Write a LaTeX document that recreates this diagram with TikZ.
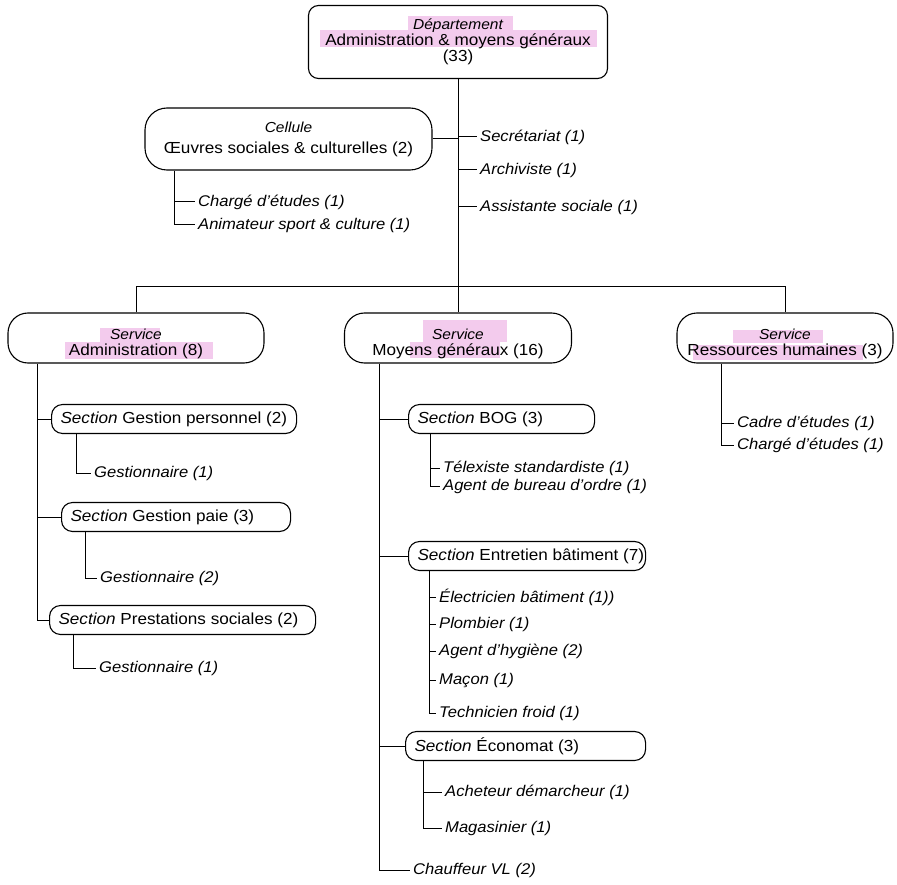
\documentclass[tikz,border=0pt]{standalone}
\usepackage{fontspec}
\setmainfont{Liberation Sans}[FakeStretch=1.07]
\usetikzlibrary{calc}
\definecolor{hilite}{RGB}{240,186,232}
\newcommand\smallit[1]{{\fontsize{14.5}{15}\selectfont\itshape #1}}
\begin{document}
\begin{tikzpicture}[x=1pt,y=-1pt,
  every node/.style={font=\fontsize{16}{16}\selectfont},
  line/.style={draw=black, line width=1pt},
  topbox/.style={draw, line width=1.1pt, rounded corners=10pt, align=center, inner sep=0pt},
  cellbox/.style={draw, line width=1.1pt, rounded corners=22pt, align=center, inner sep=0pt},
  svcbox/.style={draw, line width=1.1pt, rounded corners=20pt, inner sep=0pt, minimum height=50pt,
    label={[align=center, yshift=-6pt]center:#1}},
  sectbox/.style={draw, line width=1.1pt, rounded corners=11pt, anchor=west, minimum height=29pt,
    inner xsep=9pt, inner ysep=0pt},
  item/.style={anchor=west, inner xsep=3pt, inner ysep=1pt, font=\fontsize{15.5}{16}\selectfont\itshape},
  mark pen/.style={fill=hilite, opacity=0.75}
]
\path[use as bounding box, fill=white] (0,0) rectangle (897,885);

% highlighter strokes
\path[mark pen] (408,16) rectangle (513,30);
\path[mark pen] (320,30) rectangle (597,47);
\path[mark pen] (100,328) rectangle (160,342);
\path[mark pen] (65,342) rectangle (213,359);
\path[mark pen] (423,320) rectangle (507,342);
\path[mark pen] (410,342) rectangle (500,358);
\path[mark pen] (733,330) rectangle (823,343);
\path[mark pen] (693,345) rectangle (863,360);

% department and cell
\node[topbox, minimum width=299pt, minimum height=73pt] (dep) at (458,42)
  {\smallit{Département}\\Administration \& moyens généraux\\(33)};
\node[cellbox, minimum width=287pt, minimum height=62pt] (cel) at (288.5,139)
  {\smallit{Cellule}\\[5pt]Œuvres sociales \& culturelles (2)};

% services
\node[svcbox={\smallit{Service}\\Administration (8)}, minimum width=256pt] (adm) at (136,338) {};
\node[svcbox={\smallit{Service}\\Moyens généraux (16)}, minimum width=227pt] (moy) at (458,338) {};
\node[svcbox={\smallit{Service}\\Ressources humaines (3)}, minimum width=216pt] (rh) at (785,338) {};

\draw[line] (dep.south) -- (moy.north);
\draw[line] (adm.north) -- ++(0,-26) -| (rh.north);
\draw[line] (cel.east) -- (cel.east -| dep.south);

% staff attached to the department
\node[item] (sec) at (477,137) {Secrétariat (1)};
\node[item] (arc) at (477,170) {Archiviste (1)};
\node[item] (ass) at (477,207) {Assistante sociale (1)};
\foreach \n in {sec,arc,ass} \draw[line] (\n.west -| dep.south) -- (\n.west);

% staff of the cell
\coordinate (celx) at ($(cel.south west)+(30,0)$);
\node[item] (ce1) at (195,202) {Chargé d'études (1)};
\node[item] (ce2) at (195,225) {Animateur sport \& culture (1)};
\draw[line] (celx) |- (ce2.west);
\draw[line] (celx |- ce1.west) -- (ce1.west);

% Service Administration
\coordinate (admx) at ($(adm.south west)+(30,0)$);
\node[sectbox] (gp) at (51,419) {\makebox[227pt][l]{\textit{Section} Gestion personnel (2)}};
\node[sectbox] (gpa) at (61,517) {\makebox[211pt][l]{\textit{Section} Gestion paie (3)}};
\node[sectbox] (ps) at (49,620) {\makebox[248pt][l]{\textit{Section} Prestations sociales (2)}};
\draw[line] (admx) |- (ps.west);
\draw[line] (admx |- gp.west) -- (gp.west);
\draw[line] (admx |- gpa.west) -- (gpa.west);

\node[item] (g1) at (91,473) {Gestionnaire (1)};
\node[item] (g2) at (97,578) {Gestionnaire (2)};
\node[item] (g3) at (96,668) {Gestionnaire (1)};
\draw[line] ($(gp.south west)+(25,0)$) |- (g1.west);
\draw[line] ($(gpa.south west)+(24,0)$) |- (g2.west);
\draw[line] ($(ps.south west)+(24,0)$) |- (g3.west);

% Service Moyens généraux
\coordinate (moyx) at ($(moy.south west)+(35.5,0)$);
\node[sectbox] (bog) at (408,419) {\makebox[168pt][l]{\textit{Section} BOG (3)}};
\node[sectbox] (ent) at (408,556) {\makebox[219pt][l]{\textit{Section} Entretien bâtiment (7)}};
\node[sectbox] (eco) at (405,746) {\makebox[222pt][l]{\textit{Section} Économat (3)}};
\node[item] (chf) at (410,870) {Chauffeur VL (2)};
\draw[line] (moyx) |- (chf.west);
\foreach \n in {bog,ent,eco} \draw[line] (moyx |- \n.west) -- (\n.west);

\coordinate (bogx) at ($(bog.south west)+(22,0)$);
\node[item] (b1) at (440,468) {Télexiste standardiste (1)};
\node[item] (b2) at (440,486) {Agent de bureau d'ordre (1)};
\draw[line] (bogx) |- (b2.west);
\draw[line] (bogx |- b1.west) -- (b1.west);

\coordinate (entx) at ($(ent.south west)+(21,0)$);
\node[item] (e1) at (436,597) {Électricien bâtiment (1))};
\node[item] (e2) at (436,624) {Plombier (1)};
\node[item] (e3) at (436,651) {Agent d'hygiène (2)};
\node[item] (e4) at (436,680) {Maçon (1)};
\node[item] (e5) at (436,713) {Technicien froid (1)};
\draw[line] (entx) |- (e5.west);
\foreach \n in {e1,e2,e3,e4} \draw[line] (entx |- \n.west) -- (\n.west);

\coordinate (ecox) at ($(eco.south west)+(18,0)$);
\node[item] (c1) at (442,792) {Acheteur démarcheur (1)};
\node[item] (c2) at (442,828) {Magasinier (1)};
\draw[line] (ecox) |- (c2.west);
\draw[line] (ecox |- c1.west) -- (c1.west);

% Service Ressources humaines
\coordinate (rhx) at ($(rh.south west)+(45,0)$);
\node[item] (r1) at (734,423) {Cadre d'études (1)};
\node[item] (r2) at (734,445) {Chargé d'études (1)};
\draw[line] (rhx) |- (r2.west);
\draw[line] (rhx |- r1.west) -- (r1.west);
\end{tikzpicture}
\end{document}
